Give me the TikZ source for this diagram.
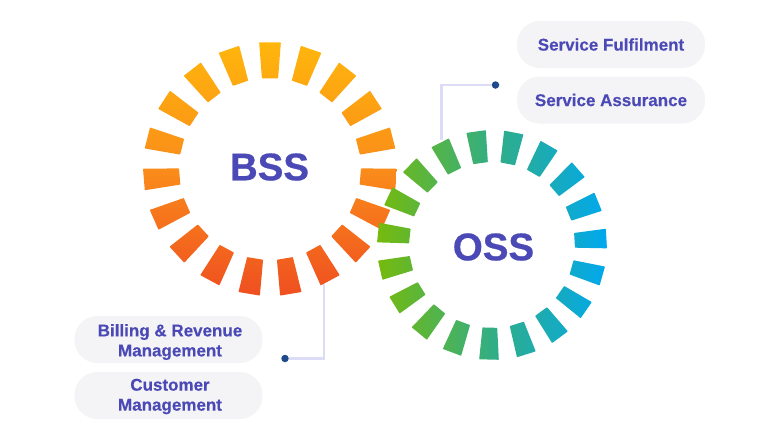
\documentclass[tikz,border=0pt]{standalone}
\usepackage{fontspec}
\setmainfont{Liberation Sans}
\definecolor{labelblue}{HTML}{4B49B6}
\definecolor{pillgrey}{HTML}{F4F3F5}
\definecolor{wirelilac}{HTML}{DCDCF6}
\definecolor{dotnavy}{HTML}{1F4A8C}
\definecolor{bssTop}{HTML}{FFB60C}
\definecolor{bssMid}{HTML}{FA8C1A}
\definecolor{bssBot}{HTML}{EF4F20}
\definecolor{ossLeft}{HTML}{76BA0C}
\definecolor{ossMid}{HTML}{32AE84}
\definecolor{ossRight}{HTML}{00A8EE}
\newcommand{\ringsegments}[5]{% cx, cy, router, rinner, start angle
  \foreach \i [evaluate=\i as \a using #5+\i*360/19] in {0,...,18} {
    ({#1+#3*cos(\a-4.9)},{#2-#3*sin(\a-4.9)}) --
    ({#1+#3*cos(\a+4.9)},{#2-#3*sin(\a+4.9)}) --
    ({#1+#4*cos(\a+5.1)},{#2-#4*sin(\a+5.1)}) --
    ({#1+#4*cos(\a-5.1)},{#2-#4*sin(\a-5.1)}) -- cycle
  }
}
\tikzset{
  pill/.style={fill=pillgrey, rounded corners=23pt, minimum width=188pt, minimum height=47pt, inner sep=0pt},
  pilltext/.style={text=labelblue, font=\fontsize{17}{20}\selectfont\bfseries\addfontfeature{FakeBold=0.25}, align=center, inner sep=0pt},
  ringtitle/.style={text=labelblue, font=\fontsize{38.5}{39}\selectfont\bfseries\addfontfeature{FakeBold=0.6}, inner sep=0pt},
  wire/.style={draw=wirelilac, line width=2.8pt},
  wiredot/.style={circle, fill=dotnavy, minimum size=7.5pt, inner sep=0pt},
  bssring/.style={top color=bssTop, bottom color=bssBot, middle color=bssMid, rounded corners=0.6pt},
  ossring/.style={left color=ossLeft, right color=ossRight, middle color=ossMid, rounded corners=0.6pt}
}
\begin{document}
\begin{tikzpicture}[x=1pt,y=-1pt]
\useasboundingbox (0,0) rectangle (780,440);
\fill[white] (0,0) rectangle (780,440);

% connector ends and dots
\coordinate (bssfoot) at (324,284);
\coordinate (ossfoot) at (441.7,140);
\node[wiredot] (dotbss) at (285,358.5) {};
\node[wiredot] (dotoss) at (495.5,85) {};
\draw[wire] (bssfoot) |- (dotbss);
\draw[wire] (ossfoot) |- (dotoss);

% rings
\shade[bssring] \ringsegments{270}{169}{127}{91}{90};
\shade[ossring] \ringsegments{492}{245}{115}{83}{268.5};

\node[ringtitle] (bss) at (269.5,167) {BSS};
\node[ringtitle] (oss) at (493.5,247) {OSS};

% pills
\node[pill] (fulfil) at (611,44.5) {};
\node[pill] (assure) at (611,100) {};
\node[pill] (billing) at (168.5,339.5) {};
\node[pill] (customer) at (168.5,395.5) {};
\node[pilltext] at ([xshift=1.5pt,yshift=-2.5pt]billing.center) {Billing \& Revenue\\Management};
\node[pilltext] at ([xshift=1.5pt,yshift=-1pt]customer.center) {Customer\\Management};
\node[pilltext] at (fulfil.center) {Service Fulfilment};
\node[pilltext] at (assure.center) {Service Assurance};
\end{tikzpicture}
\end{document}
